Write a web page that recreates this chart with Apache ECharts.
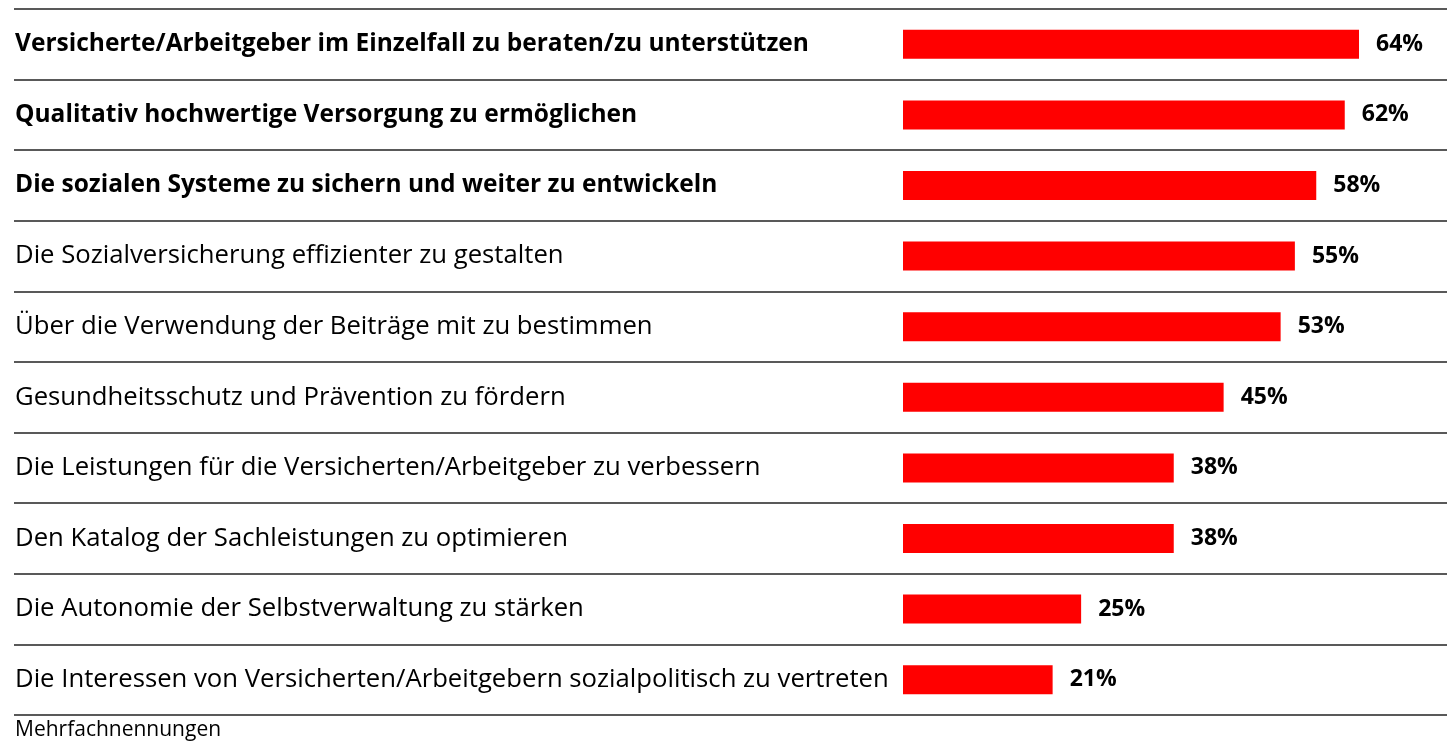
<!DOCTYPE html>
<html><head><meta charset="utf-8">
<script src="https://cdn.jsdelivr.net/npm/echarts@6/dist/echarts.min.js"></script>
<style>html,body{margin:0;padding:0;background:#fff}#c{width:1447px;height:743px}</style>
</head><body><div id="c"></div>
<script>
const categories = [
  "Versicherte/Arbeitgeber im Einzelfall zu beraten/zu unterstützen",
  "Qualitativ hochwertige Versorgung zu ermöglichen",
  "Die sozialen Systeme zu sichern und weiter zu entwickeln",
  "Die Sozialversicherung effizienter zu gestalten",
  "Über die Verwendung der Beiträge mit zu bestimmen",
  "Gesundheitsschutz und Prävention zu fördern",
  "Die Leistungen für die Versicherten/Arbeitgeber zu verbessern",
  "Den Katalog der Sachleistungen zu optimieren",
  "Die Autonomie der Selbstverwaltung zu stärken",
  "Die Interessen von Versicherten/Arbeitgebern sozialpolitisch zu vertreten"
];
const boldRows = [true, true, true, false, false, false, false, false, false, false];
const values = [64, 62, 58, 55, 53, 45, 38, 38, 25, 21];
const footnote = "Mehrfachnennungen";

const FONT = "Open Sans";
const chart = echarts.init(document.getElementById('c'), null, {renderer: 'canvas'});
chart.setOption({
  animation: false,
  backgroundColor: '#fff',
  title: {
    text: footnote, left: 15, top: 718, padding: 0,
    textStyle: {fontFamily: FONT, fontSize: 21, lineHeight: 24, fontWeight: 'normal', color: '#000'}
  },
  grid: [
    {left: 14, right: 0, top: 9, height: 706, outerBoundsMode: 'none', containLabel: false},
    {left: 903, width: 570, top: 9, height: 706, outerBoundsMode: 'none', containLabel: false}
  ],
  xAxis: [
    {gridIndex: 0, type: 'value', show: false, min: 0, max: 1},
    {gridIndex: 1, type: 'value', show: false, min: 0, max: 80}
  ],
  yAxis: [
    {gridIndex: 0, type: 'category', inverse: true,
     data: categories.map((c, i) => ({value: c, textStyle: boldRows[i] ? {fontWeight: 'bold', fontSize: 24.5} : {fontWeight: 'normal'}})),
     axisLine: {show: false}, axisTick: {show: false},
     axisLabel: {show: true, inside: true, margin: 1, fontFamily: FONT, fontSize: 25.7, color: '#000'},
     splitLine: {show: true, lineStyle: {color: '#595959', width: 2}}},
    {gridIndex: 1, type: 'category', inverse: true, data: categories,
     axisLine: {show: false}, axisTick: {show: false}, splitLine: {show: false},
     axisLabel: {show: false}}
  ],
  series: [
    {type: 'bar', xAxisIndex: 1, yAxisIndex: 1, data: values, barWidth: 29,
     itemStyle: {color: '#ff0000'},
     label: {show: true, position: 'right', distance: 17, formatter: '{c}%',
             fontFamily: FONT, fontSize: 23, fontWeight: 'bold', color: '#000'}}
  ]
});
</script></body></html>
